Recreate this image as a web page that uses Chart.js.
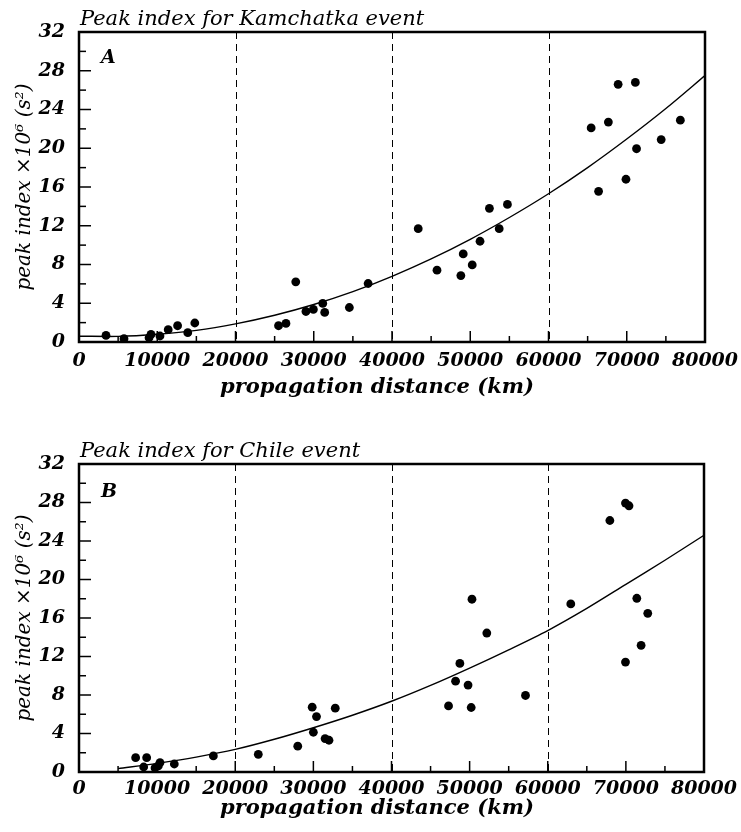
<!DOCTYPE html>
<html>
<head>
<meta charset="utf-8">
<script src="https://cdn.jsdelivr.net/npm/chart.js@4"></script>
<style>
  html, body { margin: 0; padding: 0; background: #fff; }
  .panel { position: absolute; left: 0; width: 741px; }
  #top-panel { top: 0; height: 410px; }
  #bottom-panel { top: 410px; height: 422px; }
</style>
</head>
<body>
<div class="panel" id="top-panel"><canvas id="kam-chart"></canvas></div>
<div class="panel" id="bottom-panel"><canvas id="chile-chart"></canvas></div>
<script>
// Kamchatka event (panel A)
const kamDist = [3450, 5750, 8950, 9200, 10350, 11400, 12600, 13900, 14800, 25500, 26450, 27700,
  29000, 29950, 31150, 31400, 34550, 36950, 43350, 45750, 48800, 49100, 50250, 51250, 52450,
  53700, 54750, 65450, 66400, 67650, 68900, 69900, 71100, 71250, 74400, 76850];
const kamPeak = [0.68, 0.34, 0.44, 0.78, 0.62, 1.27, 1.68, 0.96, 1.96, 1.68, 1.92, 6.21,
  3.15, 3.36, 3.98, 3.05, 3.56, 6.04, 11.7, 7.41, 6.86, 9.09, 7.96, 10.4, 13.8,
  11.7, 14.2, 22.1, 15.55, 22.7, 26.6, 16.8, 26.8, 19.95, 20.9, 22.9];
const kamFitDist = [0, 5000, 10000, 15000, 20000, 25000, 30000, 35000, 40000, 45000, 50000,
  55000, 60000, 65000, 70000, 75000, 80000];
const kamFitPeak = [0.6, 0.58, 0.8, 1.2, 1.87, 2.76, 3.87, 5.2, 6.78, 8.58, 10.6,
  12.85, 15.3, 18.0, 20.95, 24.1, 27.5];

// Chile event (panel B)
const chileDist = [7250, 8280, 8660, 9730, 10150, 10370, 12200, 17200, 22950, 28000, 29850,
  30000, 30400, 31500, 32000, 32800, 47300, 48200, 48750, 49800, 50200, 50300, 52200, 57150,
  62950, 67950, 69950, 69950, 70400, 71400, 71950, 72800];
const chilePeak = [1.49, 0.52, 1.49, 0.42, 0.63, 0.98, 0.83, 1.67, 1.84, 2.68, 6.74,
  4.13, 5.76, 3.47, 3.3, 6.63, 6.87, 9.44, 11.28, 9.03, 6.7, 17.95, 14.44, 7.95,
  17.46, 26.13, 11.42, 27.94, 27.66, 18.05, 13.16, 16.49];
const chileFitDist = [5000, 10000, 15000, 20000, 25000, 30000, 35000, 40000, 45000, 50000,
  55000, 60000, 65000, 70000, 75000, 80000];
const chileFitPeak = [0.35, 0.9, 1.55, 2.35, 3.4, 4.6, 5.9, 7.35, 9.0, 10.8,
  12.7, 14.7, 17.0, 19.5, 22.0, 24.6];

const xTickLabels = [0, 10000, 20000, 30000, 40000, 50000, 60000, 70000, 80000];
const yTickLabels = [0, 4, 8, 12, 16, 20, 24, 28, 32];
const dashedAt = [20000, 40000, 60000];

const serif = '"DejaVu Serif", serif';

// 프레임, 안쪽 눈금, 점선, 제목을 직접 그리는 플러그인
const framePlugin = {
  id: 'frame',
  beforeDatasetsDraw(chart) {
    const { ctx, chartArea: a, scales: { x } } = chart;
    ctx.save();
    ctx.strokeStyle = '#000';
    ctx.lineWidth = 1;
    ctx.setLineDash([7, 5]);
    dashedAt.forEach(v => {
      const px = Math.round(x.getPixelForValue(v)) + 0.5;
      ctx.beginPath();
      ctx.moveTo(px, a.top);
      ctx.lineTo(px, a.bottom);
      ctx.stroke();
    });
    ctx.restore();
  },
  afterDraw(chart, args, opts) {
    const { ctx, chartArea: a, scales: { x, y } } = chart;
    ctx.save();
    ctx.strokeStyle = '#000';
    ctx.fillStyle = '#000';
    ctx.lineWidth = 1.5;
    // y 눈금: 2 단위마다, 4의 배수는 길게
    for (let v = 0; v <= 32; v += 2) {
      const py = y.getPixelForValue(v);
      const len = v % 4 === 0 ? 12 : 7;
      ctx.beginPath();
      ctx.moveTo(a.left, py);
      ctx.lineTo(a.left + len, py);
      ctx.stroke();
    }
    // x 눈금: 5000 마다
    for (let v = 0; v <= 80000; v += 5000) {
      const px = x.getPixelForValue(v);
      const len = v % 10000 === 0 ? 11 : 6;
      ctx.beginPath();
      ctx.moveTo(px, a.bottom);
      ctx.lineTo(px, a.bottom - len);
      ctx.stroke();
    }
    // 테두리
    ctx.lineWidth = 2.5;
    ctx.strokeRect(a.left, a.top, a.right - a.left, a.bottom - a.top);
    // 제목과 패널 글자
    ctx.textAlign = 'left';
    ctx.textBaseline = 'alphabetic';
    ctx.font = 'italic 21px ' + serif;
    ctx.fillText(opts.title, a.left + 1, a.top - 7);
    ctx.font = 'italic bold 19px ' + serif;
    ctx.fillText(opts.panel, a.left + 22, a.top + opts.panelY);
    // x축 제목 (원본은 가운데보다 약간 왼쪽)
    ctx.textAlign = 'center';
    ctx.textBaseline = 'middle';
    ctx.font = 'italic bold 21px ' + serif;
    ctx.fillText('propagation distance (km)', 377, a.bottom + opts.xTitleY);
    ctx.restore();
  }
};

function makeChart(id, cfg) {
  const tickFont = { family: serif, size: 19, style: 'italic', weight: 'bold' };
  return new Chart(document.getElementById(id), {
    type: 'scatter',
    data: {
      datasets: [
        {
          data: cfg.dist.map((d, i) => ({ x: d, y: cfg.peak[i] })),
          backgroundColor: '#000',
          borderWidth: 0,
          pointRadius: 4.4,
          pointHoverRadius: 4.4
        },
        {
          data: cfg.fitDist.map((d, i) => ({ x: d, y: cfg.fitPeak[i] })),
          showLine: true,
          borderColor: '#000',
          borderWidth: 1.4,
          pointRadius: 0,
          tension: 0.3
        }
      ]
    },
    options: {
      responsive: true,
      maintainAspectRatio: false,
      animation: false,
      layout: { padding: { top: cfg.padTop, right: cfg.padRight, left: 0, bottom: 0 } },
      plugins: {
        legend: { display: false },
        tooltip: { enabled: false },
        frame: { title: cfg.title, panel: cfg.panel, panelY: cfg.panelY, xTitleY: cfg.xTitleY }
      },
      scales: {
        x: {
          type: 'linear',
          min: 0,
          max: 80000,
          afterBuildTicks: s => { s.ticks = xTickLabels.map(v => ({ value: v })); },
          afterFit: s => { s.height = cfg.xHeight; s.paddingLeft = 0; s.paddingRight = 0; },
          grid: { display: false, drawTicks: false },
          border: { display: false },
          ticks: { color: '#000', font: tickFont, padding: cfg.xTickPad, maxRotation: 0, autoSkip: false,
            callback: v => String(v) }
        },
        y: {
          type: 'linear',
          min: 0,
          max: 32,
          afterBuildTicks: s => { s.ticks = yTickLabels.map(v => ({ value: v })); },
          afterFit: s => { s.width = 79; s.paddingTop = 0; s.paddingBottom = 0; },
          grid: { display: false, drawTicks: false },
          border: { display: false },
          ticks: { color: '#000', font: tickFont, padding: 14 },
          title: { display: true, text: 'peak index ×10⁶ (s²)', color: '#000',
            font: { family: serif, size: 20, style: 'italic' }, padding: { top: 13, bottom: 0 } }
        }
      }
    },
    plugins: [framePlugin]
  });
}

makeChart('kam-chart', {
  dist: kamDist, peak: kamPeak, fitDist: kamFitDist, fitPeak: kamFitPeak,
  title: 'Peak index for Kamchatka event', panel: 'A', panelY: 31,
  padTop: 32, padRight: 36, xHeight: 68, xTickPad: 8, xTitleY: 46
});

makeChart('chile-chart', {
  dist: chileDist, peak: chilePeak, fitDist: chileFitDist, fitPeak: chileFitPeak,
  title: 'Peak index for Chile event', panel: 'B', panelY: 33,
  padTop: 54, padRight: 37, xHeight: 60, xTickPad: 6, xTitleY: 37
});
</script>
</body>
</html>
